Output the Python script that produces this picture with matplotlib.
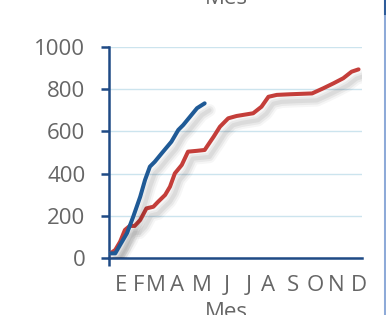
import matplotlib
matplotlib.use("Agg")
import matplotlib.pyplot as plt
import matplotlib.patheffects as pe

# cumulative values, x in day of year
blue_days = [2, 9, 16, 26, 35, 45, 52, 59, 66, 76, 90, 100, 107, 117, 127, 138]
blue_vals = [22, 22, 62, 118, 196, 290, 370, 433, 456, 496, 551, 607, 630, 670, 710, 733]

red_days = [2, 9, 16, 23, 30, 37, 45, 54, 64, 71, 81, 88, 95, 105, 114, 127, 138,
            146, 151, 160, 172, 184, 208, 220, 230, 242, 261, 293, 309, 324, 338, 350, 360]
red_vals = [22, 38, 77, 133, 152, 152, 180, 235, 243, 267, 299, 338, 401, 441, 504, 508, 512,
            551, 575, 622, 662, 673, 686, 717, 764, 773, 776, 780, 804, 828, 852, 883, 894]

month_labels = ["E", "F", "M", "A", "M", "J", "J", "A", "S", "O", "N", "D"]
y_ticks = [0, 200, 400, 600, 800, 1000]

# label anchor days (layout only)
label_days = [18, 42, 68, 98, 134, 170, 201, 230, 266, 297, 328, 360]

NAVY = "#1F4A85"
GREY = "#666666"
FS = 16
plt.rcParams["font.family"] = ["Open Sans", "DejaVu Sans"]

fig = plt.figure(figsize=(3.86, 3.15), dpi=100)
ax = fig.add_axes([109 / 386, 57 / 315, 253 / 386, 211 / 315])

shadow = [
    pe.SimpleLineShadow(offset=(3.5, -5), shadow_color="#000000", alpha=0.035, linewidth=9),
    pe.SimpleLineShadow(offset=(3.5, -5), shadow_color="#000000", alpha=0.05, linewidth=6),
    pe.SimpleLineShadow(offset=(3.5, -5), shadow_color="#000000", alpha=0.06, linewidth=3),
    pe.Normal(),
]

ax.plot(red_days, red_vals, color="#C43E3A", lw=2.9, solid_capstyle="round",
        solid_joinstyle="round", path_effects=shadow, zorder=3)
ax.plot(blue_days, blue_vals, color="#1F5A96", lw=2.9, solid_capstyle="round",
        solid_joinstyle="round", path_effects=shadow, zorder=4)

ax.set_xlim(0, 365)
ax.set_ylim(0, 1000)
ax.set_yticks(y_ticks)
ax.yaxis.grid(True, color="#CCE4EE", lw=1.0)
ax.set_axisbelow(True)

ax.set_xticks(label_days)
ax.set_xticklabels(month_labels)
ax.set_xticks([0], minor=True)
ax.tick_params(axis="x", which="major", length=0, pad=12, labelsize=FS, labelcolor=GREY)
ax.tick_params(axis="x", which="minor", length=6, width=1.8, color=NAVY, direction="out")
ax.tick_params(axis="y", length=6, width=1.8, color=NAVY, pad=11, labelsize=FS, labelcolor=GREY)

for s in ["top", "right"]:
    ax.spines[s].set_visible(False)
for s in ["left", "bottom"]:
    ax.spines[s].set_color(NAVY)
    ax.spines[s].set_linewidth(1.8)

# axis titles, partly cut off by the frame (as in the reference)
fig.text(226 / 386, 1 - 4 / 315, "Mes", ha="center", va="baseline", fontsize=FS, color=GREY)
fig.text(226 / 386, 1 - 302 / 315, "Mes", ha="center", va="top", fontsize=FS, color=GREY)

# selection border on the right edge
fig.add_artist(plt.Line2D([384.5 / 386, 384.5 / 386], [0, 1], color="#8EAAD8", lw=2.2))
fig.add_artist(plt.Line2D([384.5 / 386, 384.5 / 386], [1 - 13 / 315, 1], color="#2E5C9A", lw=2.2))

fig.savefig("out.png", dpi=100)
